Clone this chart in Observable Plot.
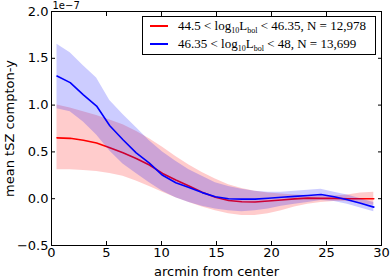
<!DOCTYPE html>
<html><head><meta charset="utf-8">
<script src="https://cdn.jsdelivr.net/npm/d3@7"></script>
<script src="https://cdn.jsdelivr.net/npm/@observablehq/plot@0.6"></script>
<style>
body{margin:0;background:#fff;}
#wrap{position:relative;width:391px;height:279px;}
.legend{position:absolute;left:142px;top:16px;width:232px;height:37px;border:1px solid #000;background:#fff;font-family:"Liberation Serif",serif;font-size:13px;color:#000;}
.row{position:absolute;left:0;height:18px;display:flex;align-items:center;white-space:nowrap;}
.sw{display:inline-block;width:18px;height:2px;margin-left:7px;margin-right:10px;}
sub{font-size:8px;vertical-align:-3px;line-height:0;}
</style></head>
<body><div id="wrap"></div>
<script>
const arcmin = [0.5,1.7,2.9,4.1,5.3,6.5,7.7,8.9,10.1,11.3,12.5,13.7,14.9,16.1,17.3,18.5,19.7,20.9,22.1,23.3,24.5,25.7,26.9,28.1,29.3];
// values in units of 1e-7
const redMean = [0.65,0.645,0.625,0.595,0.545,0.49,0.43,0.36,0.27,0.20,0.135,0.07,0.015,-0.02,-0.033,-0.035,-0.024,-0.014,-0.002,0.006,0.004,0.003,0.0,0.0,0.0];
const redLo   = [0.31,0.31,0.30,0.29,0.27,0.24,0.19,0.13,0.07,0.01,-0.04,-0.09,-0.13,-0.16,-0.18,-0.18,-0.16,-0.13,-0.09,-0.06,-0.04,-0.03,-0.03,-0.05,-0.07];
const redHi   = [1.00,0.97,0.93,0.89,0.84,0.79,0.72,0.64,0.55,0.45,0.36,0.28,0.21,0.15,0.11,0.08,0.06,0.05,0.04,0.035,0.03,0.03,0.04,0.06,0.07];
const blueMean = [1.31,1.24,1.11,0.99,0.78,0.63,0.49,0.38,0.25,0.17,0.12,0.065,0.02,0.0,-0.005,-0.005,0.005,0.015,0.025,0.035,0.045,0.02,-0.012,-0.048,-0.09];
const blueLo   = [0.96,0.93,0.82,0.68,0.51,0.37,0.27,0.17,0.08,0.01,-0.04,-0.08,-0.11,-0.13,-0.14,-0.13,-0.11,-0.08,-0.06,-0.04,-0.02,-0.03,-0.06,-0.10,-0.14];
const blueHi   = [1.65,1.56,1.42,1.29,1.05,0.90,0.76,0.62,0.50,0.40,0.31,0.24,0.17,0.13,0.10,0.08,0.07,0.07,0.08,0.09,0.10,0.07,0.04,0.0,-0.04];
const xTicks = [0,5,10,15,20,25,30];
const xTickLabels = ["0","5","10","15","20","25","30"];
const yTicks = [-0.5,0.0,0.5,1.0,1.5,2.0];
const yTickLabels = ["\u22120.5","0.0","0.5","1.0","1.5","2.0"];
const seriesNames = ["44.5 &lt; log<sub>10</sub>L<sub>bol</sub> &lt; 46.35, N = 12,978","46.35 &lt; log<sub>10</sub>L<sub>bol</sub> &lt; 48, N = 13,699"];
const seriesColors = ["#ff0000","#0000ff"];

const rows = arcmin.map((x,i)=>({x, rm:redMean[i], rl:redLo[i], rh:redHi[i], bm:blueMean[i], bl:blueLo[i], bh:blueHi[i]}));

const chart = Plot.plot({
  width:391, height:279,
  marginLeft:51, marginRight:10, marginTop:11, marginBottom:34,
  style:{fontFamily:"'DejaVu Sans',sans-serif", fontSize:"13px", color:"#000", background:"#fff", overflow:"visible"},
  x:{domain:[0,30]},
  y:{domain:[-0.5,2.0]},
  marks:[
    Plot.areaY(rows,{x:"x",y1:"rl",y2:"rh",fill:seriesColors[0],fillOpacity:0.2}),
    Plot.line(rows,{x:"x",y:"rm",stroke:seriesColors[0],strokeWidth:1.6}),
    Plot.areaY(rows,{x:"x",y1:"bl",y2:"bh",fill:seriesColors[1],fillOpacity:0.2}),
    Plot.line(rows,{x:"x",y:"bm",stroke:seriesColors[1],strokeWidth:1.6}),
    Plot.frame({stroke:"#000",strokeWidth:1}),
    Plot.axisX(xTicks,{anchor:"bottom",tickSize:-4,tickPadding:6,label:null,tickFormat:(d,i)=>xTickLabels[i],fontSize:13}),
    Plot.axisX(xTicks,{anchor:"top",tickSize:-4,tickFormat:()=>"",label:null}),
    Plot.axisY(yTicks,{anchor:"left",tickSize:-4,tickPadding:7,label:null,tickFormat:(d,i)=>yTickLabels[i],fontSize:13}),
    Plot.axisY(yTicks,{anchor:"right",tickSize:-4,tickFormat:()=>"",label:null}),
    Plot.text(["mean tSZ compton-y"],{frameAnchor:"left",dx:-42,rotate:-90,textAnchor:"middle",lineAnchor:"middle",fontSize:13}),
    Plot.text(["arcmin from center"],{frameAnchor:"bottom",dy:26,textAnchor:"middle",lineAnchor:"middle",fontSize:13}),
    Plot.text(["1e\u22127"],{frameAnchor:"top-left",dx:1,dy:-6,textAnchor:"start",lineAnchor:"middle",fontSize:10})
  ]
});
const wrap = document.getElementById("wrap");
wrap.appendChild(chart);
const leg = document.createElement("div");
leg.className = "legend";
seriesNames.forEach((n,i)=>{
  const r = document.createElement("div");
  r.className = "row";
  r.style.top = (i*18) + "px";
  r.innerHTML = `<span class="sw" style="background:${seriesColors[i]}"></span><span>${n}</span>`;
  leg.appendChild(r);
});
wrap.appendChild(leg);
</script>
</body></html>
